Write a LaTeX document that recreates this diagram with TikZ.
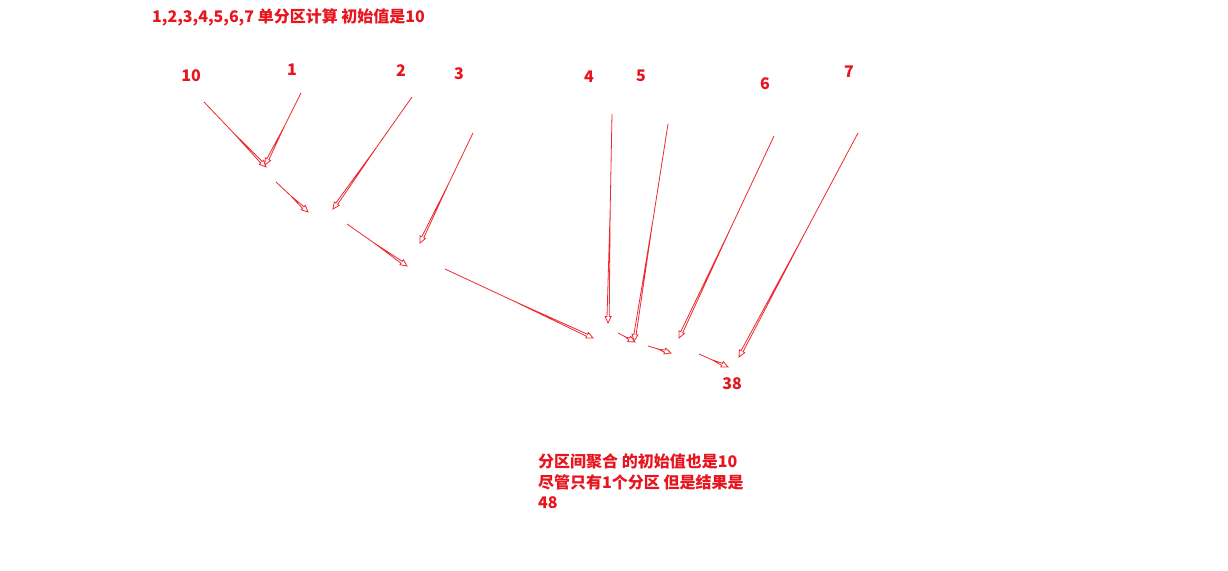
\documentclass[tikz,border=0pt]{standalone}
\usepackage{fontspec}
\setmainfont{Noto Sans CJK SC}
\usetikzlibrary{calc}
\definecolor{ink}{HTML}{E8141E}
\definecolor{arrink}{HTML}{EE2A30}
\tikzset{
  lbl/.style={text=ink,font=\fontsize{16}{20}\selectfont\bfseries,inner sep=0pt},
  arrline/.style={draw=arrink,line width=0.8pt,line join=miter},
}
\newcommand\harr[2]{%
  \coordinate (hM) at ($(#1)!0.45!(#2)$);
  \coordinate (hH) at ($(#2)!6.5pt!(#1)$);
  \draw[arrline] (#1) -- (hM);
  \draw[arrline,fill=white] (hM) -- ($(hH)!1.1pt!90:(#2)$) -- ($(hH)!3pt!90:(#2)$) -- (#2)
     -- ($(hH)!3pt!-90:(#2)$) -- ($(hH)!1.1pt!-90:(#2)$) -- cycle;
}
\begin{document}
\begin{tikzpicture}[x=1pt,y=-1pt]
\useasboundingbox[fill=white] (0,0) rectangle (1228,570);
% texts
\node[lbl,anchor=west] (title) at (152,17) {1,2,3,4,5,6,7 单分区计算 初始值是10};
\node[lbl] (n10) at (191,76) {10};
\node[lbl] (n1) at (292,70) {1};
\node[lbl] (n2) at (401,71) {2};
\node[lbl] (n3) at (459,74) {3};
\node[lbl] (n4) at (589,77) {4};
\node[lbl] (n5) at (641,76) {5};
\node[lbl] (n6) at (765,84) {6};
\node[lbl] (n7) at (849,72) {7};
\node[lbl] (n38) at (732,384) {38};
\node[lbl,anchor=west] (b1) at (538,461) {分区间聚合 的初始值也是10};
\node[lbl,anchor=west] (b2) at (538,482) {尽管只有1个分区 但是结果是};
\node[lbl,anchor=west] (b3) at (538,503) {48};
% arrow end points
\coordinate (a10s) at (204,102); \coordinate (a10e) at (266,167);
\coordinate (a1s) at (301,93);   \coordinate (a1e) at (265,165);
\coordinate (s1s) at (276,182);  \coordinate (s1e) at (308,212);
\coordinate (a2s) at (412,97);   \coordinate (a2e) at (333,209);
\coordinate (s2s) at (347,224);  \coordinate (s2e) at (407,266);
\coordinate (a3s) at (473,133);  \coordinate (a3e) at (420,243);
\coordinate (s3s) at (445,269);  \coordinate (s3e) at (593,338);
\coordinate (a4s) at (612,114);  \coordinate (a4e) at (608,323);
\coordinate (s4s) at (618,333);  \coordinate (s4e) at (635,342);
\coordinate (a5s) at (668,124);  \coordinate (a5e) at (634,341);
\coordinate (a6s) at (774,136);  \coordinate (a6e) at (679,338);
\coordinate (s5s) at (648,346);  \coordinate (s5e) at (671,353);
\coordinate (a7s) at (858,133);  \coordinate (a7e) at (739,357);
\coordinate (s6s) at (699,354);  \coordinate (s6e) at (728,367);
% arrows
\harr{a10s}{a10e}
\harr{a1s}{a1e}
\harr{s1s}{s1e}
\harr{a2s}{a2e}
\harr{s2s}{s2e}
\harr{a3s}{a3e}
\harr{s3s}{s3e}
\harr{a4s}{a4e}
\harr{s4s}{s4e}
\harr{a5s}{a5e}
\harr{a6s}{a6e}
\harr{s5s}{s5e}
\harr{a7s}{a7e}
\harr{s6s}{s6e}
\end{tikzpicture}
\end{document}
